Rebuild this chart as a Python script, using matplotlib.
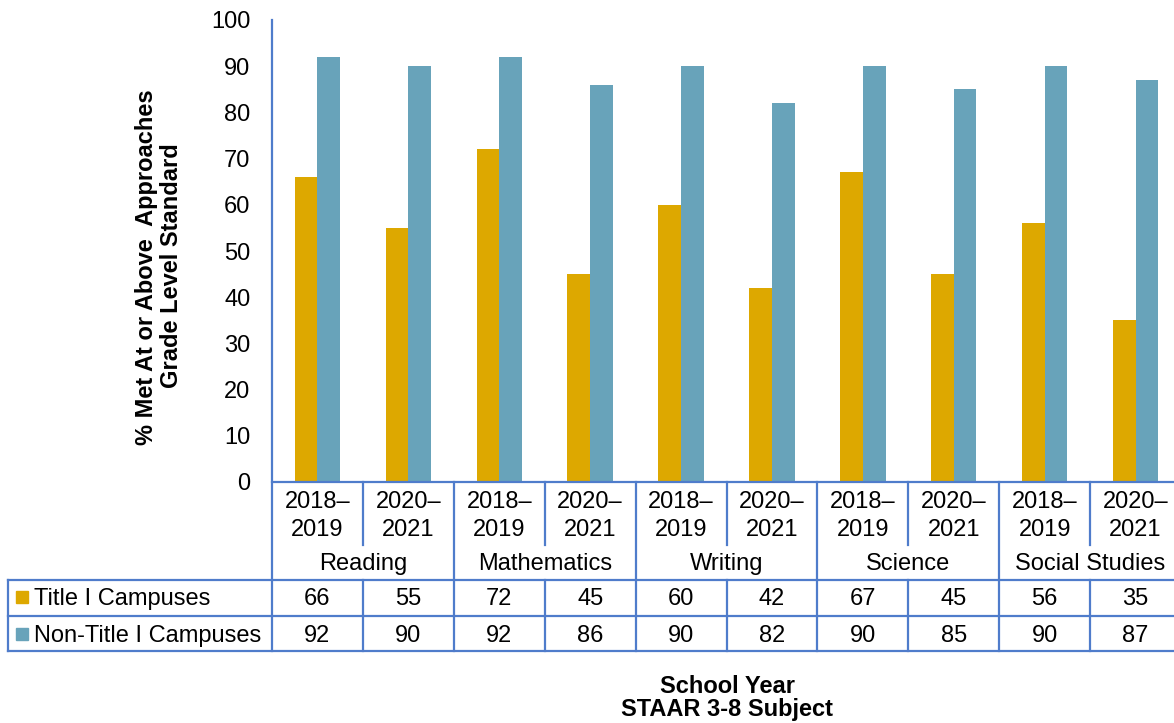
import matplotlib
matplotlib.use("Agg")
import matplotlib.pyplot as plt
from matplotlib.transforms import blended_transform_factory
from matplotlib.patches import Rectangle

plt.rcParams['font.family'] = ['Liberation Sans', 'DejaVu Sans']

# Data
subjects = ["Reading", "Mathematics", "Writing", "Science", "Social Studies"]
years = ["2018–\n2019", "2020–\n2021"]
series_names = ["Title I Campuses", "Non-Title I Campuses"]
title1 = [66, 55, 72, 45, 60, 42, 67, 45, 56, 35]
non_title1 = [92, 90, 92, 86, 90, 82, 90, 85, 90, 87]
yticks = [0, 10, 20, 30, 40, 50, 60, 70, 80, 90, 100]

gold = "#DDA800"
teal = "#68A3BA"
line_c = "#4F7CCB"

W, H = 1174, 723
fig = plt.figure(figsize=(W / 100, H / 100), dpi=100)


def fx(px):
    return px / W


def fy(py):
    return 1 - py / H


# axes: left at 272px, 10 categories of ~90.9px, top 20px, baseline 482px
ax_left, ax_right, ax_top, ax_bot = 272, 1181, 20, 482
ax = fig.add_axes([fx(ax_left), fy(ax_bot), fx(ax_right - ax_left), (ax_bot - ax_top) / H])
n = len(title1)
xs = list(range(n))
bw = 0.25
ax.bar([x - bw / 2 for x in xs], title1, width=bw, color=gold, clip_on=False)
ax.bar([x + bw / 2 for x in xs], non_title1, width=bw, color=teal, clip_on=False)
ax.set_xlim(-0.5, n - 0.5)
ax.set_ylim(0, 100)
fs = 17
ax.set_yticks(yticks)
ax.set_yticklabels([str(v) for v in yticks], fontsize=fs)
ax.tick_params(axis='y', length=0, pad=15.5)
ax.set_xticks([])
for s in ["top", "right", "bottom", "left"]:
    ax.spines[s].set_visible(False)
ax.patch.set_alpha(0)

tr = blended_transform_factory(ax.transData, fig.transFigure)
lw = 1.6


def hline(x0, x1, py, t=tr):
    fig.add_artist(plt.Line2D([x0, x1], [fy(py), fy(py)], transform=t, color=line_c, lw=lw, clip_on=False))


def vline(x, py0, py1, t=tr):
    fig.add_artist(plt.Line2D([x, x], [fy(py0), fy(py1)], transform=t, color=line_c, lw=lw, clip_on=False))


row_top, row_mid, row_bot = 579.5, 615.5, 651
xright = n - 0.5

# value axis line running down into the table
vline(-0.5, ax_top, row_bot)
hline(-0.5, xright, ax_bot)
for k in range(n):
    b = k + 0.5
    if k % 2 == 0:
        vline(b, ax_bot, 545)
        vline(b, row_top, row_bot)
    else:
        vline(b, ax_bot, row_bot)

# table horizontal rules, legend column starts at 8px
figt = fig.transFigure
for py in (row_top, row_mid, row_bot):
    fig.add_artist(plt.Line2D([fx(8), 1.01], [fy(py), fy(py)], transform=figt, color=line_c, lw=lw))
fig.add_artist(plt.Line2D([fx(8), fx(8)], [fy(row_top), fy(row_bot)], transform=figt, color=line_c, lw=lw))

# year labels
for k in range(n):
    top, bot = years[k % 2].split("\n")
    fig.text(k, fy(508), top, transform=tr, ha="center", va="baseline", fontsize=fs)
    fig.text(k, fy(536), bot, transform=tr, ha="center", va="baseline", fontsize=fs)
# subject labels
for j, s in enumerate(subjects):
    fig.text(2 * j + 0.5, fy(570), s, transform=tr, ha="center", va="baseline", fontsize=fs)
# table values
for k in range(n):
    fig.text(k, fy(605), str(title1[k]), transform=tr, ha="center", va="baseline", fontsize=fs)
    fig.text(k, fy(642), str(non_title1[k]), transform=tr, ha="center", va="baseline", fontsize=fs)

# legend keys in the table
for py, c, name in ((605, gold, series_names[0]), (642, teal, series_names[1])):
    fig.add_artist(Rectangle((fx(16), fy(py - 2)), fx(12), 12 / H, transform=figt, color=c))
    fig.text(fx(34), fy(py), name, ha="left", va="baseline", fontsize=fs)

# axis titles
fig.text(fx(146), fy(267), "% Met At or Above  Approaches", rotation=90,
         ha="center", va="center", fontsize=fs, fontweight="bold")
fig.text(fx(172), fy(266), "Grade Level Standard", rotation=90,
         ha="center", va="center", fontsize=fs, fontweight="bold")
fig.text(fx(727), fy(693), "School Year", ha="center", va="baseline", fontsize=fs, fontweight="bold")
fig.text(fx(727), fy(716), "STAAR 3-8 Subject", ha="center", va="baseline", fontsize=fs, fontweight="bold")

fig.savefig("out.png", dpi=100)
